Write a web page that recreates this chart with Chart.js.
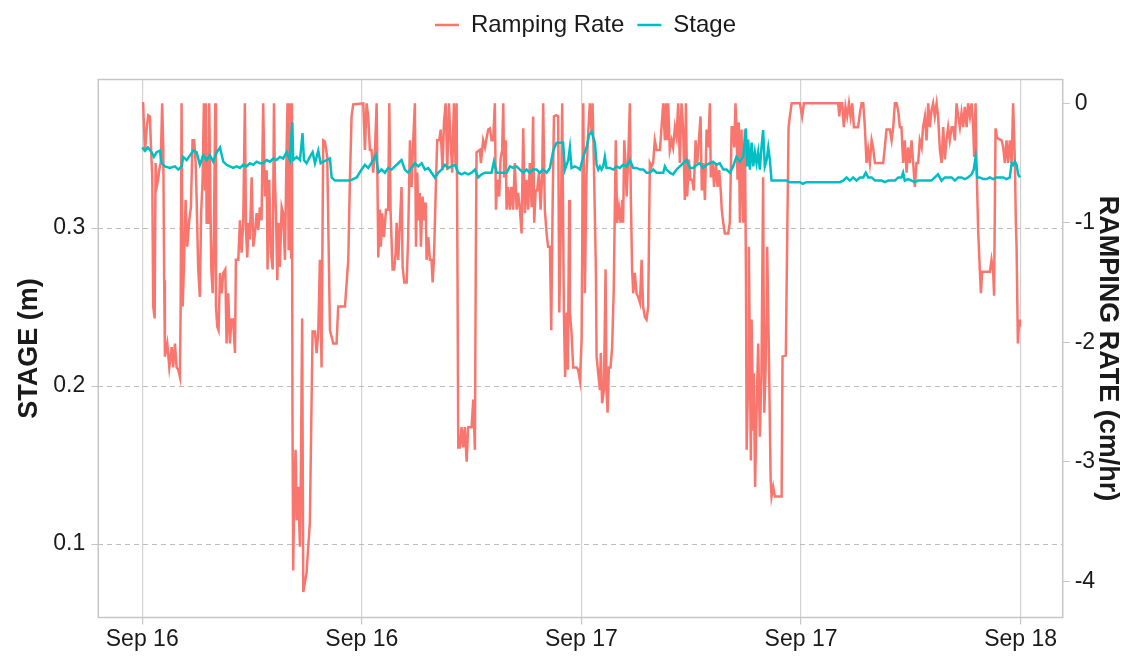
<!DOCTYPE html>
<html>
<head>
<meta charset="utf-8">
<title>Stage and ramping rate</title>
<script src="https://cdn.jsdelivr.net/npm/chart.js@4.4.1/dist/chart.umd.min.js"></script>
<style>
  html, body { margin: 0; padding: 0; background: #fff; }
  #wrap { width: 1131px; height: 656px; }
</style>
</head>
<body>
<div id="wrap"><canvas id="myChart" width="1131" height="656"></canvas></div>
<script>
// hours since Sep 16 00:00
const tickHours = [0, 12, 24, 36, 48];
const tickLabels = ['Sep 16', 'Sep 16', 'Sep 17', 'Sep 17', 'Sep 18'];
const stageTicks = [0.1, 0.2, 0.3];
const rateTicks = [0, -1, -2, -3, -4];

// ramping rate (cm/hr)
const rampHours = [
  0.00,0.05,0.15,0.24,0.33,0.42,0.48,0.55,0.60,0.68,
  0.73,0.79,0.87,0.93,1.01,1.09,1.15,1.20,1.24,1.37,
  1.48,1.61,1.69,1.79,1.88,1.97,2.06,2.10,2.15,2.21,
  2.28,2.37,2.46,2.57,2.66,2.75,2.84,2.92,2.97,3.06,
  3.15,3.22,3.30,3.37,3.43,3.48,3.52,3.61,3.66,3.72,
  3.77,3.85,3.92,3.99,4.03,4.10,4.17,4.25,4.34,4.43,
  4.54,4.61,4.70,4.79,4.88,4.97,5.07,5.12,5.25,5.34,
  5.43,5.52,5.61,5.67,5.74,5.81,5.88,5.98,6.07,6.16,
  6.25,6.34,6.43,6.52,6.61,6.70,6.80,6.85,6.94,7.03,
  7.13,7.20,7.25,7.31,7.38,7.45,7.52,7.62,7.70,7.80,
  7.89,7.94,8.00,8.07,8.14,8.18,8.21,8.25,8.31,8.38,
  8.44,8.52,8.62,8.67,8.74,8.80,8.98,9.16,9.26,9.31,
  9.44,9.53,9.62,9.71,9.80,9.89,9.98,10.11,10.26,10.44,
  10.62,10.71,11.08,11.26,11.35,11.44,11.53,12.08,12.17,12.26,
  12.35,12.44,12.53,12.62,12.72,12.81,12.90,12.99,13.04,13.11,
  13.21,13.32,13.44,13.50,13.57,13.68,13.77,13.85,13.90,13.99,
  14.08,14.17,14.23,14.32,14.45,14.53,14.63,14.72,14.81,14.90,
  14.96,15.03,15.10,15.17,15.23,15.32,15.41,15.49,15.54,15.63,
  15.72,15.81,15.87,15.94,16.05,16.12,16.23,16.31,16.41,16.49,
  16.58,16.67,16.76,16.85,16.94,17.03,17.12,17.18,17.23,17.27,
  17.36,17.45,17.54,17.63,17.73,17.81,18.00,18.09,18.18,18.23,
  18.27,18.45,18.51,18.63,18.73,18.82,18.91,19.00,19.09,19.18,
  19.27,19.33,19.40,19.51,19.58,19.67,19.73,19.78,19.86,19.91,
  20.00,20.09,20.18,20.27,20.36,20.46,20.54,20.64,20.73,20.82,
  20.91,21.00,21.09,21.18,21.28,21.36,21.42,21.50,21.58,21.68,
  21.77,21.86,21.91,22.00,22.10,22.18,22.28,22.35,22.43,22.50,
  22.64,22.73,22.79,22.88,22.95,23.04,23.11,23.19,23.26,23.33,
  23.37,23.46,23.55,23.74,23.82,23.92,24.01,24.10,24.19,24.28,
  24.37,24.46,24.56,24.61,24.68,24.79,24.83,24.92,25.01,25.06,
  25.13,25.23,25.32,25.37,25.43,25.50,25.59,25.68,25.77,25.83,
  25.88,25.95,26.05,26.14,26.23,26.28,26.34,26.41,26.47,26.56,
  26.65,26.70,26.77,26.83,26.92,27.01,27.10,27.20,27.29,27.37,
  27.47,27.56,27.65,27.74,27.83,27.92,28.01,28.11,28.29,28.38,
  28.47,28.56,28.62,28.69,28.74,28.83,28.93,29.01,29.11,29.20,
  29.29,29.38,29.47,29.56,29.65,29.71,29.78,29.87,29.96,30.05,
  30.14,30.24,30.33,30.42,30.51,30.58,30.65,30.75,30.84,30.93,
  31.02,31.07,31.17,31.25,31.35,31.44,31.53,31.62,31.67,31.75,
  31.84,32.02,32.11,32.21,32.29,32.35,32.42,32.48,32.53,32.60,
  32.66,32.75,32.84,32.93,32.99,33.03,33.11,33.15,33.26,33.30,
  33.39,33.42,33.49,33.57,33.66,33.75,33.84,33.93,33.99,34.06,
  34.12,34.15,34.24,34.34,34.39,34.48,34.57,34.94,34.99,35.17,
  35.24,35.32,35.39,35.49,35.94,36.06,36.16,38.03,38.09,38.16,
  38.25,38.34,38.43,38.52,38.62,38.71,38.80,38.89,39.12,39.22,
  39.31,39.40,39.49,39.58,39.67,39.76,39.86,39.94,40.04,40.49,
  40.58,40.67,40.85,40.95,41.04,41.13,41.22,41.31,41.40,41.49,
  41.58,41.67,41.77,41.85,41.95,42.04,42.13,42.22,42.31,42.40,
  42.49,42.59,42.67,42.77,42.86,42.95,43.04,43.13,43.22,43.31,
  43.41,43.49,43.59,43.68,43.77,43.86,43.95,44.04,44.13,44.23,
  44.31,44.41,44.50,44.59,44.68,44.77,44.86,44.95,45.05,45.13,
  45.23,45.32,45.41,45.46,45.54,45.59,45.68,45.77,45.83,45.90,
  46.32,46.41,46.50,46.55,46.63,46.72,46.96,47.05,47.14,47.23,
  47.32,47.41,47.51,47.59,47.69,47.74,47.78,47.85,47.92,47.96
];
const rampRate = [
  0,0,-0.41,-0.22,-0.10,-0.11,-0.37,-0.62,-1.70,-1.80,
  -0.50,-0.70,-0.64,-0.56,-0.50,0,-0.37,-1.48,-2.12,-2.01,
  -2.21,-2.04,-2.21,-2.01,-2.21,-2.23,-2.29,-1.70,0,-1.70,
  -1.37,-0.81,-1.20,-0.98,-0.87,-0.31,-0.31,-0.50,-0.78,-1.39,
  -1.62,-0.92,-0.64,0,-0.73,0,-1.00,-1.00,0,-0.70,
  -1.37,-1.59,-1.06,0,-1.70,-1.87,-1.90,-1.42,-1.59,-1.42,
  -1.39,-2.01,-1.59,-2.01,-1.81,-1.81,-2.09,-1.31,-1.31,-0.98,
  -1.25,-1.00,0,-1.06,-1.29,-1.00,-1.14,-0.62,-1.20,-1.09,
  -0.92,-1.06,-0.87,-0.98,0,-0.78,-0.56,-1.39,-0.64,-1.25,
  -1.39,0,-0.64,-0.92,-1.48,-1.00,-1.37,-0.87,-0.92,-1.31,
  -0.37,0,-1.23,0,-1.29,0,-2.57,-3.91,-3.24,-2.90,
  -3.49,-3.21,-3.71,-3.07,-1.80,-4.09,-3.93,-3.51,-2.43,-1.91,
  -1.91,-2.09,-1.92,-1.31,-2.21,-0.31,-0.32,-0.45,-1.90,-2.01,
  -2.01,-1.70,-1.70,-1.31,-0.64,-0.11,-0.01,0,-0.39,0,
  -0.11,-0.39,-0.39,-0.58,-0.39,0,-1.29,-0.89,-1.20,-0.92,
  -1.12,-0.89,-0.89,0,-0.89,-1.39,-1.39,-1.25,-1.00,-1.31,
  -1.00,-0.70,-1.37,-1.50,-1.50,-1.14,-0.31,-0.70,-0.31,0,
  -1.20,-0.58,-0.98,-0.75,-1.20,-0.78,-0.98,-0.83,-1.31,-1.12,
  -1.31,-1.31,-1.50,-1.31,-0.67,-0.31,-0.31,-0.22,-0.56,-0.16,
  0,-0.56,0,-0.31,-0.58,0,-0.50,0,-1.45,-2.88,
  -2.88,-2.71,-2.88,-2.71,-3.00,-2.71,-2.71,-2.48,-2.90,-1.25,
  -0.41,-0.39,-0.50,-0.31,-0.37,-0.29,-0.22,-0.21,-0.31,-0.31,
  0,-0.89,-0.64,-0.78,-0.47,-0.39,0,-0.62,-0.31,-0.89,
  -0.70,-0.89,-0.70,-0.89,-0.50,-0.89,-0.75,-0.89,-1.09,-0.21,
  -0.92,-0.64,-0.89,-0.50,-0.87,-0.11,-1.00,-0.73,-0.73,-0.58,
  -0.89,-0.58,0,-0.89,-1.09,-1.20,-1.20,-1.90,-0.81,-0.11,
  -0.10,-0.11,-1.75,-0.98,0,-1.73,-2.29,-1.75,-2.23,-0.81,
  -1.75,-1.92,-2.21,-2.21,-2.23,-2.32,-1.98,0,-1.59,-0.58,
  -0.25,0,-0.25,0,-0.50,-1.39,-2.12,-2.26,-2.40,-2.09,
  -2.51,-2.40,-1.39,-2.40,-2.59,-2.21,-2.21,-2.04,-1.54,-0.83,
  -0.31,-1.00,-0.87,-1.00,-0.81,-1.00,-0.31,-0.50,-0.78,-0.45,
  0,-0.78,-1.39,-1.59,-1.42,-1.59,-1.62,-1.67,-1.31,-1.70,
  -1.79,-1.81,-1.70,-0.50,-0.53,-0.50,-0.31,-0.39,-0.39,-0.20,
  0,-0.31,0,-0.31,0,-0.39,-0.31,-0.37,-0.20,-0.28,
  0,-0.50,0,-0.22,-0.81,0,-0.78,-0.47,-0.64,-0.64,
  -0.73,-0.31,-0.50,-0.31,-0.11,-0.73,-0.50,-0.81,-0.22,-0.37,
  0,-0.62,-0.50,-0.70,-0.50,-0.70,-0.56,-0.75,-0.89,-1.00,
  -1.09,-1.09,-1.00,-0.20,-0.20,-0.37,0,-0.22,-0.64,-0.16,
  -1.00,-0.22,-1.00,-0.22,-1.39,-2.90,-2.32,-1.20,-2.99,-1.81,
  -2.73,-2.26,-3.21,-2.59,-2.01,-2.79,-2.26,-0.62,-2.59,-2.26,
  -1.75,-1.20,-2.04,-3.15,-3.29,-3.21,-3.29,-3.29,-2.12,-2.11,
  -1.20,-0.20,-0.11,0,0,-0.11,0,0,-0.11,0,
  0,-0.20,-0.03,-0.11,0,-0.11,0,-0.20,-0.20,-0.08,
  0,0,-0.20,-0.50,-0.39,-0.50,-0.31,-0.37,-0.50,-0.50,
  -0.37,-0.22,-0.22,-0.31,-0.20,0,0,-0.06,-0.20,-0.20,
  -0.50,-0.31,-0.58,-0.37,-0.50,-0.31,-0.50,-0.70,-0.50,-0.50,
  -0.31,-0.37,-0.20,-0.11,-0.31,0,-0.20,-0.06,0,-0.11,
  0,-0.11,-0.39,-0.50,-0.20,-0.47,-0.31,-0.20,-0.31,-0.20,
  -0.20,-0.31,0,-0.11,-0.20,-0.08,-0.20,-0.03,-0.20,0,
  -0.11,0,-0.20,-0.45,0,-0.50,-1.06,-1.39,-1.59,-1.41,
  -1.41,-1.31,-1.41,-1.61,-0.21,-0.29,-0.31,-0.37,-0.50,-0.31,
  -0.50,-0.31,-0.50,0,-0.50,-1.00,-1.20,-2.01,-1.81,-1.87
];

// stage (m)
const stageHours = [
  0.00,0.15,0.31,0.51,0.64,0.79,0.97,1.06,1.24,1.51,
  1.79,1.97,2.15,2.24,2.43,2.61,2.79,2.97,3.15,3.33,
  3.52,3.70,3.88,4.07,4.25,4.43,4.61,4.79,4.97,5.16,
  5.34,5.52,5.70,5.88,6.07,6.25,6.43,6.61,6.80,6.98,
  7.16,7.34,7.52,7.70,7.89,8.07,8.20,8.25,8.44,8.62,
  8.76,8.84,8.98,9.16,9.31,9.44,9.62,9.75,9.89,10.08,
  10.26,10.35,10.53,11.35,11.72,11.99,12.17,12.35,12.62,12.77,
  12.90,13.08,13.26,13.44,13.63,13.81,13.99,14.17,14.35,14.53,
  14.72,14.90,15.08,15.27,15.45,15.63,15.81,15.99,16.17,16.36,
  16.54,16.72,16.91,17.09,17.27,17.45,17.63,17.81,18.00,18.18,
  18.36,18.55,18.73,18.91,19.09,19.22,19.37,19.55,19.73,19.91,
  20.09,20.27,20.46,20.64,20.82,21.00,21.18,21.36,21.55,21.73,
  21.91,22.10,22.28,22.46,22.64,22.82,23.00,23.10,23.28,23.37,
  23.46,23.64,23.82,23.92,24.10,24.28,24.42,24.56,24.65,24.74,
  24.83,24.92,25.01,25.10,25.19,25.28,25.37,25.56,25.74,25.92,
  26.10,26.28,26.47,26.65,26.83,27.01,27.20,27.38,27.56,27.74,
  27.92,28.11,28.29,28.47,28.56,28.65,28.83,29.01,29.20,29.38,
  29.56,29.75,29.93,30.11,30.29,30.47,30.65,30.84,31.02,31.20,
  31.38,31.56,31.75,31.93,32.11,32.29,32.47,32.66,32.84,32.99,
  33.06,33.11,33.21,33.30,33.39,33.48,33.57,33.66,33.75,33.84,
  33.93,34.02,34.12,34.21,34.30,34.39,34.67,35.21,35.39,35.94,
  36.09,36.31,37.21,38.03,38.12,38.30,38.49,38.67,38.85,39.03,
  39.22,39.40,39.54,39.67,39.86,40.04,40.22,40.40,40.58,40.77,
  40.95,41.13,41.31,41.49,41.58,41.67,41.86,42.04,42.22,42.40,
  42.59,42.77,42.95,43.13,43.31,43.49,43.68,43.86,44.04,44.23,
  44.41,44.59,44.77,44.95,45.13,45.32,45.44,45.54,45.63,45.77,
  45.96,46.14,46.32,46.50,46.69,46.87,47.05,47.23,47.41,47.51,
  47.59,47.69,47.78,47.87,47.96
];
const stageLevel = [
  0.351,0.349,0.351,0.348,0.345,0.348,0.349,0.341,0.339,0.338,
  0.339,0.337,0.339,0.345,0.343,0.346,0.349,0.348,0.340,0.346,
  0.343,0.346,0.342,0.348,0.351,0.342,0.340,0.339,0.338,0.339,
  0.338,0.340,0.339,0.341,0.340,0.342,0.341,0.341,0.343,0.342,
  0.344,0.343,0.345,0.344,0.348,0.343,0.367,0.343,0.345,0.343,
  0.360,0.343,0.341,0.345,0.348,0.341,0.349,0.341,0.342,0.343,
  0.344,0.332,0.330,0.330,0.332,0.337,0.340,0.338,0.343,0.346,
  0.335,0.337,0.335,0.338,0.337,0.339,0.341,0.343,0.337,0.335,
  0.338,0.341,0.339,0.341,0.337,0.338,0.335,0.332,0.335,0.337,
  0.340,0.338,0.339,0.340,0.335,0.334,0.335,0.334,0.335,0.337,
  0.332,0.334,0.335,0.335,0.335,0.342,0.335,0.335,0.335,0.335,
  0.339,0.338,0.339,0.337,0.335,0.337,0.335,0.337,0.337,0.335,
  0.337,0.335,0.338,0.349,0.354,0.354,0.354,0.337,0.343,0.351,
  0.338,0.339,0.338,0.337,0.345,0.351,0.359,0.361,0.357,0.354,
  0.340,0.337,0.339,0.337,0.339,0.345,0.338,0.338,0.337,0.339,
  0.338,0.340,0.339,0.343,0.338,0.338,0.337,0.337,0.335,0.335,
  0.337,0.335,0.335,0.335,0.339,0.337,0.335,0.334,0.337,0.339,
  0.341,0.343,0.338,0.338,0.340,0.341,0.338,0.340,0.341,0.342,
  0.340,0.341,0.337,0.337,0.335,0.339,0.345,0.342,0.345,0.363,
  0.339,0.356,0.337,0.354,0.339,0.348,0.341,0.348,0.337,0.351,
  0.362,0.339,0.343,0.351,0.343,0.330,0.330,0.330,0.329,0.329,
  0.328,0.329,0.329,0.329,0.329,0.330,0.332,0.330,0.332,0.330,
  0.332,0.332,0.335,0.332,0.332,0.330,0.330,0.330,0.329,0.330,
  0.330,0.330,0.332,0.332,0.335,0.330,0.331,0.330,0.329,0.330,
  0.330,0.330,0.330,0.330,0.332,0.334,0.330,0.332,0.332,0.332,
  0.330,0.332,0.332,0.331,0.332,0.334,0.337,0.345,0.332,0.332,
  0.331,0.331,0.332,0.331,0.332,0.332,0.332,0.331,0.332,0.341,
  0.340,0.342,0.340,0.334,0.332
];

const RED = '#F8766D';
const TEAL = '#00BFC4';
const INK = '#1a1a1a';
const FONT = '"Liberation Sans", Arial, Helvetica, sans-serif';

Chart.defaults.font.family = FONT;
Chart.defaults.color = INK;

const toPoints = (xs, ys) => xs.map((x, i) => ({ x: x, y: ys[i] }));

// gray frame round the plotting panel
const panelBorder = {
  id: 'panelBorder',
  afterDatasetsDraw(chart) {
    const { ctx, chartArea: a } = chart;
    ctx.save();
    ctx.strokeStyle = '#c6c6c6';
    ctx.lineWidth = 1.5;
    ctx.strokeRect(a.left, a.top, a.right - a.left, a.bottom - a.top);
    ctx.restore();
  }
};

// fixed space above the panel for the legend, nudged right a little
const legendSpace = {
  id: 'legendSpace',
  beforeInit(chart) {
    const fit = chart.legend.fit;
    chart.legend.fit = function () {
      fit.call(this);
      this.height = 79.5;
    };
  },
  afterLayout(chart) {
    chart.legend.left += 20;
    chart.legend.right += 20;
  }
};

const ctx = document.getElementById('myChart');

let chart = new Chart(ctx, {
  type: 'line',
  data: {
    datasets: [{
      label: 'Ramping Rate',
      data: toPoints(rampHours, rampRate),
      yAxisID: 'y2',
      borderColor: RED,
      backgroundColor: RED,
      borderWidth: 2.5,
      pointRadius: 0,
      tension: 0,
      order: 1
    }, {
      label: 'Stage',
      data: toPoints(stageHours, stageLevel),
      yAxisID: 'y',
      borderColor: TEAL,
      backgroundColor: TEAL,
      borderWidth: 2.5,
      pointRadius: 0,
      tension: 0,
      order: 0
    }]
  },
  options: {
    responsive: false,
    animation: false,
    devicePixelRatio: 1,
    layout: { padding: 0 },
    plugins: {
      tooltip: { enabled: false },
      legend: {
        position: 'top',
        labels: {
          usePointStyle: true,
          pointStyle: 'line',
          pointStyleWidth: 24,
          padding: 13,
          color: INK,
          font: { size: 24 },
          sort: (a, b) => a.datasetIndex - b.datasetIndex
        }
      }
    },
    scales: {
      x: {
        type: 'linear',
        min: -2.4,
        max: 50.3,
        afterBuildTicks: s => { s.ticks = tickHours.map(v => ({ value: v })); },
        afterFit: s => { s.height = 38.5; },
        ticks: {
          autoSkip: false,
          maxRotation: 0,
          padding: 1,
          color: INK,
          font: { size: 23 },
          callback: (v, i) => tickLabels[i]
        },
        grid: { color: '#d2d2d2', lineWidth: 1.2, tickLength: 7, tickColor: '#c6c6c6' },
        border: { display: false }
      },
      y: {
        position: 'left',
        min: 0.0535,
        max: 0.394,
        afterBuildTicks: s => { s.ticks = stageTicks.map(v => ({ value: v })); },
        afterFit: s => { s.width = 98.3; },
        ticks: {
          padding: 6,
          color: INK,
          font: { size: 23 },
          callback: v => v.toFixed(1)
        },
        title: {
          display: true,
          text: 'STAGE (m)',
          color: INK,
          font: { size: 27, weight: 'bold' },
          padding: { top: 13, bottom: 0 }
        },
        grid: { color: '#bdbdbd', lineWidth: 1, tickLength: 7, tickColor: '#c6c6c6', tickBorderDash: [] },
        border: { display: false, dash: [5, 4] }
      },
      y2: {
        position: 'right',
        min: -4.303,
        max: 0.199,
        afterBuildTicks: s => { s.ticks = rateTicks.map(v => ({ value: v })); },
        afterFit: s => { s.width = 68.3; },
        ticks: {
          padding: 5,
          color: INK,
          font: { size: 23 },
          callback: v => String(v)
        },
        title: {
          display: true,
          text: 'RAMPING RATE (cm/hr)',
          color: INK,
          font: { size: 27, weight: 'bold' },
          padding: { top: 7, bottom: 0 }
        },
        grid: { drawOnChartArea: false, tickLength: 7, tickColor: '#c6c6c6' },
        border: { display: false }
      }
    }
  },
  plugins: [panelBorder, legendSpace]
});
</script>
</body>
</html>
